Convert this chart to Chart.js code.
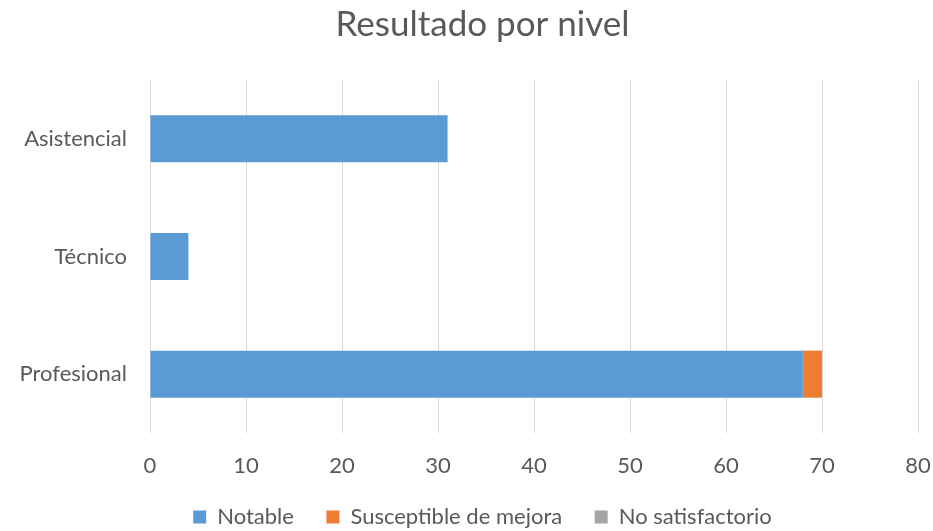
<!DOCTYPE html>
<html lang="es">
  <head>
    <meta charset="UTF-8" />
    <title>Resultado por nivel</title>
    <script src="https://cdn.jsdelivr.net/npm/chart.js"></script>
    <style>
      body {
        margin: 0;
        background-color: #ffffff;
      }
      #wrap {
        width: 933px;
        height: 531px;
      }
    </style>
  </head>
  <body>
    <div id="wrap"><canvas id="nivelChart" width="933" height="531"></canvas></div>
    <script>
      const categories = ["Asistencial", "Técnico", "Profesional"];
      const notable = [31, 4, 68];
      const susceptible = [0, 0, 2];
      const noSatisfactorio = [0, 0, 0];
      const xTicks = [0, 10, 20, 30, 40, 50, 60, 70, 80];

      const fontFamily = "Lato, 'Open Sans', sans-serif";
      const textColor = "#595959";

      const ctx = document.getElementById("nivelChart").getContext("2d");
      new Chart(ctx, {
        type: "bar",
        data: {
          labels: categories,
          datasets: [
            { label: "Notable", data: notable, backgroundColor: "#5b9bd5" },
            { label: "Susceptible de mejora", data: susceptible, backgroundColor: "#ed7d31" },
            { label: "No satisfactorio", data: noSatisfactorio, backgroundColor: "#a5a5a5" },
          ],
        },
        options: {
          indexAxis: "y",
          responsive: false,
          animation: false,
          // shifted a bit right, like the title/legend in the original
          layout: { padding: { left: 16, right: -16, top: 0, bottom: -7 } },
          datasets: {
            bar: { barPercentage: 0.8, categoryPercentage: 0.5 },
          },
          scales: {
            x: {
              stacked: true,
              min: xTicks[0],
              max: xTicks[xTicks.length - 1],
              afterBuildTicks: (scale) => {
                scale.ticks = xTicks.map((v) => ({ value: v }));
              },
              grid: { color: "#d9d9d9", lineWidth: 1, drawTicks: false },
              border: { display: false },
              ticks: {
                color: textColor,
                font: { family: fontFamily, size: 22 },
                padding: 20,
              },
              afterFit: (scale) => {
                scale.height = 63;
                scale.paddingRight = 15;
              },
            },
            y: {
              stacked: true,
              grid: { display: false, drawTicks: false },
              border: { display: false },
              ticks: {
                color: textColor,
                font: { family: fontFamily, size: 22 },
                padding: 23,
              },
              afterFit: (scale) => {
                scale.width = 134;
              },
            },
          },
          plugins: {
            title: {
              display: true,
              text: "Resultado por nivel",
              color: textColor,
              font: { family: fontFamily, size: 35, weight: "normal" },
              padding: { top: 4, bottom: 34 },
            },
            legend: {
              position: "bottom",
              labels: {
                color: textColor,
                font: { family: fontFamily, size: 22 },
                boxWidth: 13,
                boxHeight: 13,
                padding: 10,
                generateLabels: (chart) =>
                  Chart.defaults.plugins.legend.labels
                    .generateLabels(chart)
                    .map((item, i, all) => {
                      if (i < all.length - 1) item.text = item.text + "    ";
                      return item;
                    }),
              },
            },
            tooltip: { enabled: false },
          },
        },
      });
    </script>
  </body>
</html>
